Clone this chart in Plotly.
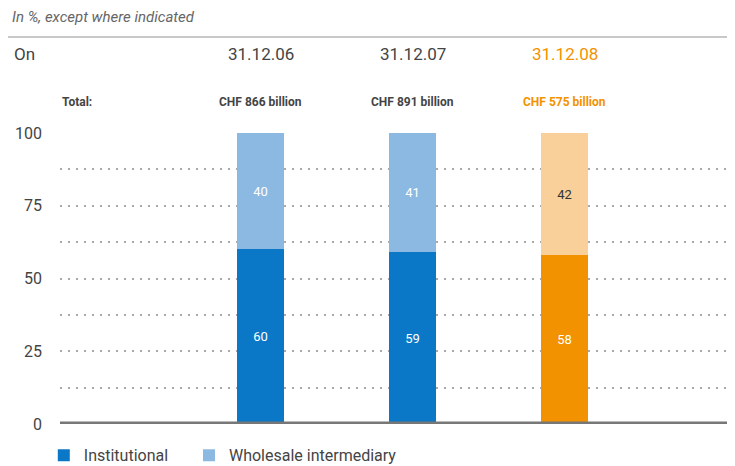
import plotly.graph_objects as go

dates = ["31.12.06", "31.12.07", "31.12.08"]
totals = ["CHF 866 billion", "CHF 891 billion", "CHF 575 billion"]
institutional = [60, 59, 58]
wholesale = [40, 41, 42]
ytick_vals = [0, 12.5, 25, 37.5, 50, 62.5, 75, 87.5, 100]
ytick_text = ["0", "", "25", "", "50", "", "75", "", "100"]

BLUE = "#0a78c6"
LBLUE = "#8cb9e2"
ORANGE = "#f39200"
LORANGE = "#f9d09a"
TXT = "#444444"
FONT = "Roboto, sans-serif"
NB = "\u00a0"

fig = go.Figure()
fig.add_trace(go.Bar(
    x=dates, y=institutional, name="Institutional" + NB * 4,
    marker=dict(color=[BLUE, BLUE, ORANGE], line=dict(width=0)),
    width=0.31, text=institutional, textposition="inside",
    insidetextanchor="middle",
    textfont=dict(color="white", size=13, family=FONT),
))
fig.add_trace(go.Bar(
    x=dates, y=wholesale, name="Wholesale intermediary",
    marker=dict(color=[LBLUE, LBLUE, LORANGE], line=dict(width=0)),
    width=0.31, text=wholesale, textposition="inside",
    insidetextanchor="middle",
    textfont=dict(color=["white", "white", "#333333"], size=13, family=FONT),
))

# page body adds an 8px offset; figure sized to fill the rest of the window
fig.update_layout(
    barmode="stack",
    width=727, height=458,
    margin=dict(l=52, r=0, t=125, b=42, autoexpand=False),
    paper_bgcolor="white", plot_bgcolor="white",
    font=dict(family=FONT, color=TXT, size=16),
    showlegend=True,
    legend=dict(orientation="h", x=-0.024, y=-0.049, xanchor="left", yanchor="top",
                font=dict(size=16, color=TXT), traceorder="normal",
                itemwidth=30, bgcolor="rgba(0,0,0,0)"),
    xaxis=dict(range=[-1.32, 3.12], showticklabels=False, showgrid=False,
               zeroline=False, showline=False, fixedrange=True, automargin=False),
    yaxis=dict(range=[0, 100], tickvals=ytick_vals, ticktext=ytick_text,
               showgrid=True, gridcolor="#aaaaaa", griddash="2px,6px", gridwidth=2,
               zeroline=False, ticks="", ticklabelstandoff=17, automargin=False,
               tickfont=dict(size=16, color=TXT)),
    bargap=0,
)

# baseline
fig.add_shape(type="line", xref="paper", yref="y", x0=0, x1=1, y0=0, y1=0,
              line=dict(color="#777777", width=5), layer="above")
# header rule
fig.add_shape(type="line", xref="paper", yref="paper", x0=-0.09, x1=1,
              y0=1.33, y1=1.33, line=dict(color="#c8c8c8", width=2))

fig.add_annotation(text="<i>In %, except where indicated</i>", xref="paper", yref="paper",
                   x=-0.074, y=1.4, xanchor="left", yanchor="middle", showarrow=False,
                   font=dict(size=15, color="#666666"))
fig.add_annotation(text="On", xref="paper", yref="paper", x=-0.071, y=1.27,
                   xanchor="left", yanchor="middle", showarrow=False,
                   font=dict(size=17, color=TXT))
fig.add_annotation(text="<b>Total:</b>", xref="paper", yref="paper", x=0.0, y=1.105,
                   xanchor="left", yanchor="middle", showarrow=False,
                   font=dict(size=12, color=TXT))
colors = [TXT, TXT, ORANGE]
for d, t, c in zip(dates, totals, colors):
    fig.add_annotation(text=d, x=d, xref="x", yref="paper", y=1.27, yanchor="middle",
                       showarrow=False, font=dict(size=17, color=c))
    fig.add_annotation(text="<b>" + t + "</b>", x=d, xref="x", yref="paper", y=1.105,
                       yanchor="middle", showarrow=False, font=dict(size=12, color=c))

fig.write_html("out.html")
